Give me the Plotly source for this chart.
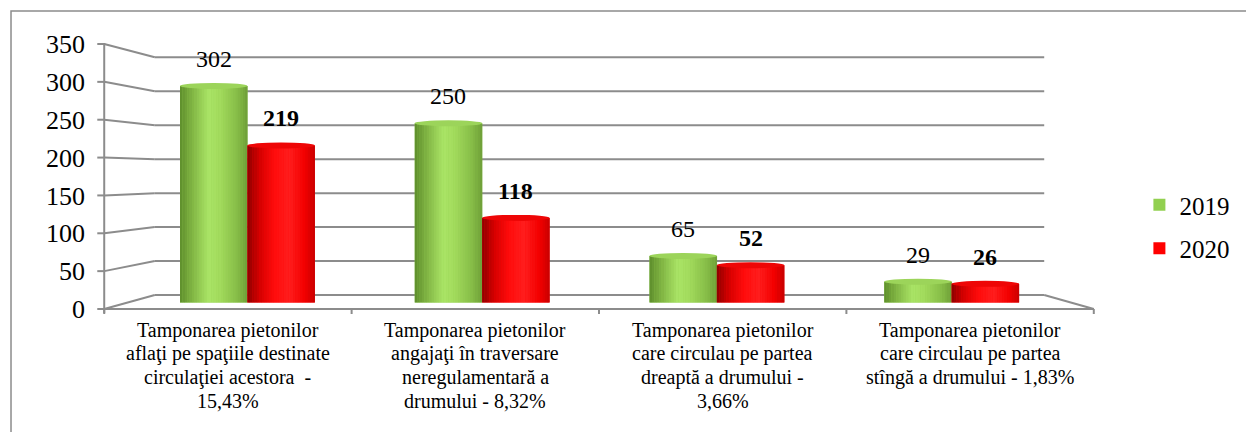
import plotly.graph_objects as go

# ---------------- data ----------------
categories = [
    "Tamponarea pietonilor<br>aflaţi pe spaţiile destinate<br>circulaţiei acestora  -<br>15,43%",
    "Tamponarea pietonilor<br>angajaţi în traversare<br>neregulamentară a<br>drumului - 8,32%",
    "Tamponarea pietonilor<br>care circulau pe partea<br>dreaptă a drumului -<br>3,66%",
    "Tamponarea pietonilor<br>care circulau pe partea<br>stîngă a drumului - 1,83%",
]
series_names = ["2019", "2020"]
values_2019 = [302, 250, 65, 29]
values_2020 = [219, 118, 52, 26]
y_ticks = [0, 50, 100, 150, 200, 250, 300, 350]

# ---------------- style ----------------
FONT = "Liberation Serif, Times New Roman, serif"
GRID = "#8C8C8C"
legend_colors = ["#92D050", "#FF0000"]
top_colors = ["#9CD45A", "#EE0606"]
shade_stops = [
    [(0.0, "#5E8E2C"), (0.18, "#80B443"), (0.42, "#AAE466"), (0.6, "#A2DA5C"), (0.85, "#86BC47"), (1.0, "#6E9E38")],
    [(0.0, "#8E0000"), (0.18, "#D40000"), (0.4, "#FF0C0C"), (0.62, "#FF1E1E"), (0.85, "#F20000"), (1.0, "#C80000")],
]

W_PX, H_PX = 1246, 432
L, R, T, B = 130, 1077, 44, 309          # plot area (mid-depth) in pixels
PW, PH = R - L, B - T
FRONT_X, BACK_X, BACK_RIGHT, FRONT_RIGHT = 104, 155, 1052, 1102
FRONT_BASE, BACK_BASE = 309, 295
FRONT_PPU, BACK_PPU = 265 / 350, 237.7 / 350
BAR_BASE, BAR_PPU = 302.5, 0.717

def px(x):
    return (x - L) / PW

def py(y):
    return (B - y) / PH

def hex2rgb(h):
    h = h.lstrip("#")
    return [int(h[i:i + 2], 16) for i in (0, 2, 4)]

def shade(stops, t):
    for (t0, c0), (t1, c1) in zip(stops[:-1], stops[1:]):
        if t0 <= t <= t1:
            f = (t - t0) / (t1 - t0) if t1 > t0 else 0
            a, b = hex2rgb(c0), hex2rgb(c1)
            return "rgb(%d,%d,%d)" % tuple(round(a[k] + (b[k] - a[k]) * f) for k in range(3))
    return stops[-1][1]

fig = go.Figure()

bar_w = 0.287
n_slices = 28
all_values = [values_2019, values_2020]

for s, (name, vals) in enumerate(zip(series_names, all_values)):
    off0 = -bar_w + s * bar_w
    fig.add_trace(go.Bar(
        x=categories, y=vals, name=name, width=bar_w, offset=off0,
        marker=dict(color=legend_colors[s], line=dict(width=0)),
        legendgroup=name, showlegend=True, hoverinfo="skip",
    ))
    sw = bar_w / n_slices
    for j in range(n_slices):
        t = (j + 0.5) / n_slices
        fig.add_trace(go.Bar(
            x=categories, y=vals, width=sw * 1.08, offset=off0 + j * sw,
            marker=dict(color=shade(shade_stops[s], t), line=dict(width=0)),
            showlegend=False, hoverinfo="skip",
        ))

# invisible trace so the front (value) axis is drawn
fig.add_trace(go.Scatter(x=[categories[0]], y=[0], yaxis="y2", mode="markers",
                         marker=dict(opacity=0), showlegend=False, hoverinfo="skip"))

annotations = []
shapes = []

# data labels + cylinder tops
for s, vals in enumerate(all_values):
    for i, v in enumerate(vals):
        xc = i - bar_w / 2 + s * bar_w
        annotations.append(dict(
            x=xc, y=v, xref="x", yref="y",
            text=("<b>%d</b>" % v) if s == 1 else str(v), showarrow=False,
            yanchor="middle", yshift=27,
            font=dict(family=FONT, size=24, color="black"),
        ))
        shapes.append(dict(
            type="circle", xref="x", yref="y", ysizemode="pixel", yanchor=v,
            x0=xc - bar_w / 2, x1=xc + bar_w / 2, y0=-3, y1=3,
            fillcolor=top_colors[s], line=dict(width=0), layer="above",
        ))

# category labels under the front floor edge
cat_w = (FRONT_RIGHT - FRONT_X) / len(categories)
for i, c in enumerate(categories):
    cx = FRONT_X + cat_w * (i + 0.5)
    for k, line in enumerate(c.split("<br>")):
        annotations.append(dict(
            x=px(cx), y=py(330 + 23.7 * k), xref="paper", yref="paper",
            text=line, showarrow=False, xanchor="center", yanchor="middle",
            font=dict(family=FONT, size=20, color="black"),
        ))

# perspective walls / floor
def line(x0, y0, x1, y1, w=2, color=GRID):
    shapes.append(dict(type="line", xref="paper", yref="paper",
                       x0=px(x0), y0=py(y0), x1=px(x1), y1=py(y1),
                       line=dict(color=color, width=w), layer="below"))

for v in y_ticks:
    yf = FRONT_BASE - v * FRONT_PPU
    yb = BACK_BASE - v * BACK_PPU
    line(FRONT_X, yf, BACK_X, yb)
    line(BACK_X, yb, BACK_RIGHT, yb)
    line(FRONT_X - 7, yf, FRONT_X, yf)
line(FRONT_X, 43, FRONT_X, 313)
line(FRONT_X, FRONT_BASE, FRONT_RIGHT, FRONT_BASE)
line(BACK_RIGHT, BACK_BASE, FRONT_RIGHT, FRONT_BASE)
for k in range(len(categories) + 1):
    x = FRONT_X + cat_w * k
    line(x, FRONT_BASE, x, FRONT_BASE + 5)

# outer chart border
shapes.append(dict(type="rect", xref="paper", yref="paper",
                   x0=px(10), y0=py(11), x1=px(1300), y1=py(480),
                   line=dict(color=GRID, width=1.5), layer="below"))

bar_lo = (BAR_BASE - B) / BAR_PPU
bar_hi = (BAR_BASE - T) / BAR_PPU

fig.update_layout(
    width=W_PX, height=H_PX,
    margin=dict(l=L, r=W_PX - R, t=T, b=H_PX - B, pad=0),
    paper_bgcolor="white", plot_bgcolor="rgba(0,0,0,0)",
    barmode="overlay",
    font=dict(family=FONT, color="black"),
    xaxis=dict(type="category", showticklabels=False, showgrid=False,
               zeroline=False, showline=False, ticks="",
               range=[-0.5, len(categories) - 0.5]),
    yaxis=dict(range=[bar_lo, bar_hi], visible=False, showgrid=False, zeroline=False),
    yaxis2=dict(overlaying="y", side="left", anchor="x", range=[0, 350],
                tickvals=y_ticks, showgrid=False, zeroline=False, showline=False,
                ticks="", ticklabelstandoff=44,
                tickfont=dict(family=FONT, size=26, color="black")),
    legend=dict(x=px(1148), y=py(226.5), xanchor="left", yanchor="middle",
                font=dict(family=FONT, size=25, color="black"),
                traceorder="grouped", tracegroupgap=8,
                bgcolor="rgba(0,0,0,0)"),
    showlegend=True,
    annotations=annotations,
    shapes=shapes,
)

fig.write_html("out.html", config={"displayModeBar": False},
               post_script="document.body.style.margin='0';document.body.style.padding='0';")
